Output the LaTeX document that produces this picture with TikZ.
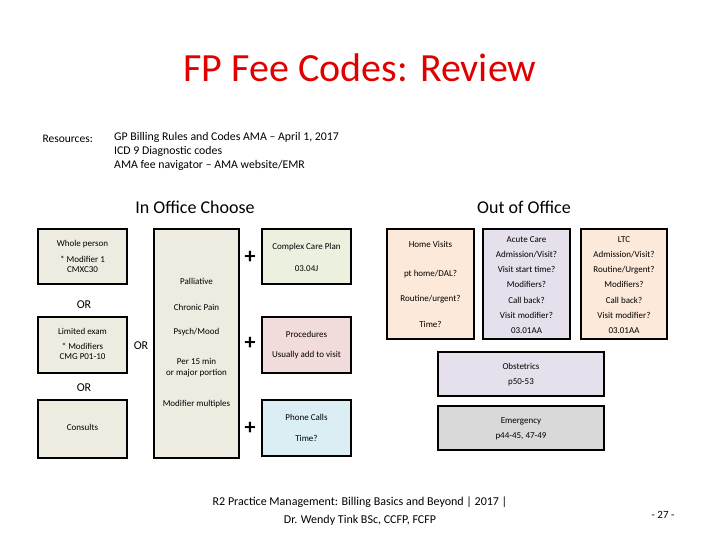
\documentclass[tikz,border=0pt]{standalone}
\usepackage{fontspec}
\setmainfont{Carlito}
\begin{document}
\begin{tikzpicture}[x=1pt,y=-1pt,
  bx/.style={draw=black,line width=2.2pt},
  t/.style={font=\fontsize{9}{11}\selectfont,align=center,inner sep=0pt},
  big/.style={font=\fontsize{18}{20}\selectfont},
  orl/.style={font=\fontsize{12}{14}\selectfont},
  pl/.style={font=\fontsize{22}{22}\selectfont\bfseries,inner sep=0pt}]
\useasboundingbox (0,0) rectangle (720,540);
\definecolor{beige}{HTML}{EEECE1}
\definecolor{gr}{HTML}{EBF1DE}
\definecolor{pk}{HTML}{F2DCDB}
\definecolor{bl}{HTML}{DBEEF4}
\definecolor{pe}{HTML}{FDE9D9}
\definecolor{lv}{HTML}{E5E0EC}
\definecolor{gy}{HTML}{D9D9D9}
\node (title) at (360,68) {\fontsize{40}{44}\selectfont\color[HTML]{E00000}FP Fee Codes: Review};
\node[anchor=west,font=\fontsize{11.5}{14}\selectfont] (res) at (39,139) {Resources:};
\node[anchor=north west,align=left,font=\fontsize{11.8}{14}\selectfont,inner sep=0pt] (rl) at (114,132) {GP Billing Rules and Codes AMA -- April 1, 2017\\ICD 9 Diagnostic codes\\AMA fee navigator -- AMA website/EMR};
\node[big] (io) at (195,207) {In Office Choose};
\node[big] (oo) at (524,207) {Out of Office};
% left
\draw[bx,fill=beige] (38,229) rectangle (127,284);
\node[t] (wp) at (82.5,244) {Whole person};
\node[t] (wp2) at (82.5,259) {* Modifier 1};
\node[t] (wp3) at (82.5,270) {CMXC30};
\node[orl] (or1) at (84,305) {OR};
\draw[bx,fill=beige] (38,317) rectangle (127,373);
\node[t] (le) at (82.5,331) {Limited exam};
\node[t] (le2) at (82.5,346) {* Modifiers};
\node[t] (le3) at (82.5,357) {CMG P01-10};
\node[orl] (or2) at (84,388) {OR};
\draw[bx,fill=beige] (38,400) rectangle (127,458);
\node[t] (co) at (82.5,427) {Consults};
\node[orl] (or3) at (141,346) {OR};
% middle
\draw[bx,fill=beige] (154,229) rectangle (239,458);
\node[t] (pa) at (196.5,281) {Palliative};
\node[t] (cp) at (196.5,307) {Chronic Pain};
\node[t] (pm) at (196.5,332) {Psych/Mood};
\node[t] (pf) at (196.5,368) {Per 15 min\\or major portion};
\node[t] (mm) at (196.5,404) {Modifier multiples};
\node[pl] (p1) at (250,257) {+};
\node[pl] (p2) at (250,343) {+};
\node[pl] (p3) at (250,428) {+};
% right
\draw[bx,fill=gr] (262,229) rectangle (351,284);
\node[t] (cc) at (306.5,247) {Complex Care Plan};
\node[t] (cc2) at (306.5,269) {03.04J};
\draw[bx,fill=pk] (262,317) rectangle (351,373);
\node[t] (pr) at (306.5,334) {Procedures};
\node[t] (pr2) at (306.5,355) {Usually add to visit};
\draw[bx,fill=bl] (262,400) rectangle (351,456);
\node[t] (ph) at (306.5,417) {Phone Calls};
\node[t] (ph2) at (306.5,438) {Time?};
% out of office
\draw[bx,fill=pe] (387,229) rectangle (474,339);
\node[t] (hv) at (430.5,244) {Home Visits};
\node[t] (hv2) at (430.5,274) {pt home/DAL?};
\node[t] (hv3) at (430.5,299) {Routine/urgent?};
\node[t] (hv4) at (430.5,324) {Time?};
\draw[bx,fill=lv] (483,229) rectangle (570,339);
\node[t,font=\fontsize{9}{15.2}\selectfont] (ac) at (526.5,285) {Acute Care\\Admission/Visit?\\Visit start time?\\Modifiers?\\Call back?\\Visit modifier?\\03.01AA};
\draw[bx,fill=pe] (581,229) rectangle (667,339);
\node[t,font=\fontsize{9}{15.2}\selectfont] (ltc) at (624,285) {LTC\\Admission/Visit?\\Routine/Urgent?\\Modifiers?\\Call back?\\Visit modifier?\\03.01AA};
\draw[bx,fill=lv] (438,352) rectangle (604,396);
\node[t] (ob) at (521,366) {Obstetrics};
\node[t] (ob2) at (521,382) {p50-53};
\draw[bx,fill=gy] (438,406) rectangle (604,450);
\node[t] (em) at (521,421) {Emergency};
\node[t] (em2) at (521,436) {p44-45, 47-49};
\node[align=center,font=\fontsize{12}{18}\selectfont] (ft) at (360,511) {R2 Practice Management: Billing Basics and Beyond | 2017 |\\Dr. Wendy Tink BSc, CCFP, FCFP};
\node[font=\fontsize{11}{12}\selectfont] (pg) at (663,515) {- 27 -};
\end{tikzpicture}
\end{document}
